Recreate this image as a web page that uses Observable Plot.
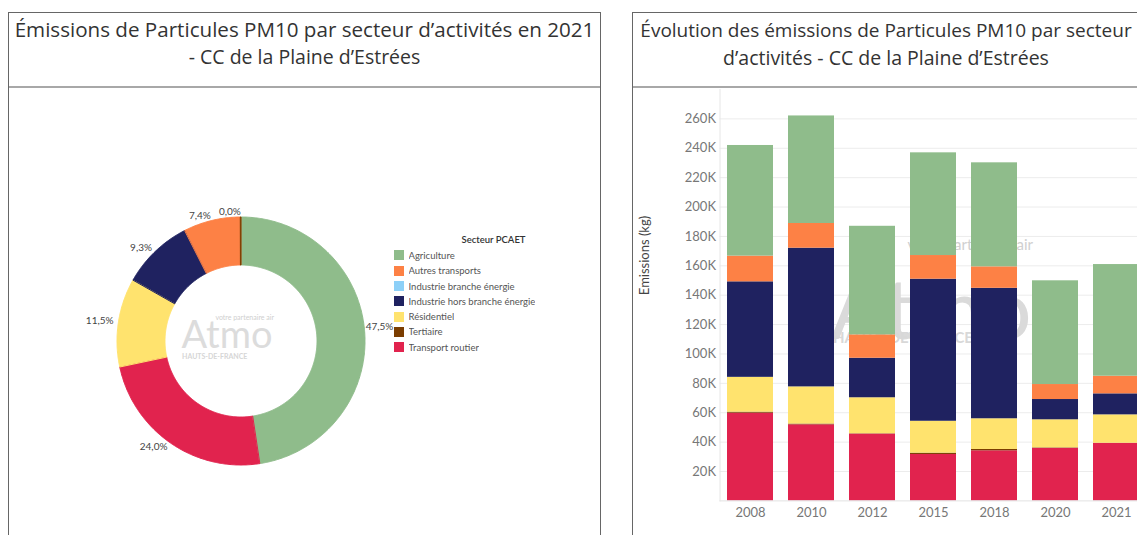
<!DOCTYPE html>
<html><head><meta charset="utf-8">
<script src="https://cdn.jsdelivr.net/npm/d3@7"></script>
<script src="https://cdn.jsdelivr.net/npm/@observablehq/plot@0.6"></script>
<style>
html,body{margin:0;padding:0;width:1137px;height:535px;overflow:hidden;background:#fff;font-family:"Open Sans",sans-serif;}
.panel{position:absolute;top:12px;height:540px;border:1.5px solid #666;border-bottom:none;box-sizing:border-box;overflow:hidden;background:#fff}
#left{left:8px;width:593px}
#right{left:632px;width:508px}
.title{height:75px;border-bottom:2px solid #a8a8a8;box-sizing:border-box;text-align:center;color:#333;font-size:19.5px;line-height:27px;padding-top:3px;white-space:nowrap}
#left .l1{font-size:20.6px}
#right .l1{font-size:19px}
.chart{position:absolute;top:75.5px;left:0;width:600px}
.chart svg{max-width:none !important}
#legend{position:absolute;left:384.5px;top:234.8px;width:200px}
#legend .lg-swatch{height:15.3px;padding:0;margin:0;font:9.5px Lato,sans-serif;color:#555}
#legend .lg-swatch svg{margin-right:5px}
#legtitle{position:absolute;left:452.5px;top:220.5px;font:600 9.5px Lato,sans-serif;line-height:12px;color:#333;white-space:nowrap}
</style></head>
<body>
<div id="left" class="panel">
  <div class="title"><span class="l1">Émissions de Particules PM10 par secteur d’activités en 2021</span><br>- CC de la Plaine d’Estrées</div>
  <div id="donut" class="chart"></div>
  <div id="legtitle">Secteur PCAET</div>
  <div id="legend"></div>
</div>
<div id="right" class="panel">
  <div class="title"><span class="l1">Évolution des émissions de Particules PM10 par secteur</span><br>d’activités - CC de la Plaine d’Estrées</div>
  <div id="bars" class="chart"></div>
</div>
<script>
// ---- data ----
const sectors = ["Agriculture","Autres transports","Industrie branche énergie","Industrie hors branche énergie","Résidentiel","Tertiaire","Transport routier"];
const colors = ["#8fbc8b","#fd8145","#8dd0f8","#1f2260","#ffe36e","#7b3d00","#e1234e"];
// 2021 shares (%) for the donut
const share2021 = [47.5, 7.4, 0, 9.3, 11.5, 0.04, 24.0];

const years = ["2008","2010","2012","2015","2018","2020","2021"];
const agriculture      = [75300, 73200, 73900, 69900, 70800, 70600, 76000];
const autresTransports = [17500, 16800, 15900, 16100, 14600, 10200, 12000];
const industrieBranche = [0, 0, 0, 0, 0, 0, 0];
const industrieHors    = [65000, 94400, 26900, 96700, 88800, 13800, 14300];
const residentiel      = [23700, 25300, 24500, 21700, 20900, 19100, 19300];
const tertiaire        = [700, 500, 200, 900, 900, 300, 60];
const transportRoutier = [59700, 51800, 45500, 31600, 34100, 35800, 39200];
const yTicks = [20000,40000,60000,80000,100000,120000,140000,160000,180000,200000,220000,240000,260000];

const colorScale = {domain: sectors, range: colors};

// ---- donut ----
const R = 124, r = 76;
const pieData = sectors.map((s,i)=>({sector:s, value:share2021[i]})).filter(d=>d.value>0)
  .sort((a,b)=>b.value-a.value);
const arcs = d3.pie().value(d=>d.value).sort(null)(pieData);
const pts = arcs.flatMap(a=>{
  const n = Math.max(2, Math.ceil((a.endAngle-a.startAngle)/0.01));
  const outer=[], inner=[];
  for(let k=0;k<=n;k++){
    const t = a.startAngle + (a.endAngle-a.startAngle)*k/n;
    outer.push({sector:a.data.sector, x:R*Math.sin(t), y:R*Math.cos(t)});
    inner.push({sector:a.data.sector, x:r*Math.sin(t), y:r*Math.cos(t)});
  }
  return [...outer, ...inner.reverse()];
});
const fmt = v => d3.format(".1f")(v).replace(".", ",") + "%";
const labels = arcs.map(a=>{
  const m = (a.startAngle+a.endAngle)/2;
  return {x:(R+5)*Math.sin(m), y:(R+5)*Math.cos(m), side:Math.sin(m)>=0?"r":"l", t:fmt(a.data.value)};
});
const center = [{x:0,y:0}];

const donut = Plot.plot({
  width: 590, height: 446, margin: 0,
  x: {domain: [-231.5, 358.5], axis: null},
  y: {domain: [-194.5, 251.5], axis: null},
  color: colorScale,
  style: {fontFamily: "Lato, sans-serif", background: "transparent", overflow: "visible"},
  marks: [
    Plot.line(pts, {x:"x", y:"y", z:"sector", fill:"sector", stroke:"sector", strokeWidth:1, curve:"linear-closed"}),
    Plot.text(center, {x:"x", y:"y", text:()=>"Atmo", dx:-14, dy:-5, fontSize:38, fill:"#dcdcdc", textAnchor:"middle"}),
    Plot.text(center, {x:"x", y:"y", text:()=>"votre partenaire air", dx:33, dy:-23, fontSize:7, fill:"#cfcfcf", textAnchor:"end"}),
    Plot.text(center, {x:"x", y:"y", text:()=>"HAUTS-DE-FRANCE", dx:-59, dy:15.5, fontSize:7, fontWeight:"bold", fill:"#d6d6d6", textAnchor:"start"}),
    Plot.text(labels.filter(d=>d.side==="r"), {x:"x", y:"y", text:"t", textAnchor:"start", dx:-4, dy:-5, fontSize:10, fill:"#444"}),
    Plot.text(labels.filter(d=>d.side==="l"), {x:"x", y:"y", text:"t", textAnchor:"end", fontSize:10, fill:"#444"})
  ]
});
document.getElementById("donut").appendChild(donut);

const legend = Plot.legend({color: colorScale, legend: "swatches", columns: 1, swatchSize: 10, className: "lg"});
document.getElementById("legend").appendChild(legend);

// ---- stacked bars ----
const series = {
  "Agriculture": agriculture,
  "Autres transports": autresTransports,
  "Industrie branche énergie": industrieBranche,
  "Industrie hors branche énergie": industrieHors,
  "Résidentiel": residentiel,
  "Tertiaire": tertiaire,
  "Transport routier": transportRoutier
};
const stackOrder = ["Transport routier","Tertiaire","Résidentiel","Industrie hors branche énergie","Industrie branche énergie","Autres transports","Agriculture"];
const long = [];
years.forEach((yr,i)=>stackOrder.forEach(s=>long.push({year:yr, sector:s, value:series[s][i]})));

const bars = Plot.plot({
  width: 520, height: 446, marginLeft: 86.5, marginRight: 5.8, marginTop: 0, marginBottom: 34.6,
  style: {fontFamily: "Lato, sans-serif", fontSize: "13px", background: "transparent", maxWidth: "none"},
  x: {domain: years, paddingInner: 0.248, paddingOuter: 0.114, label: null, axis: null},
  y: {domain: [0, 280000], label: null, axis: null},
  color: colorScale,
  marks: [
    Plot.gridY(yTicks, {stroke:"#ececec", strokeOpacity:1}),
    Plot.text(center, {frameAnchor:"top-left", text:()=>"Atmo", dx:211, dy:190, fontSize:84, fill:"#dadada", textAnchor:"middle"}),
    Plot.text(center, {frameAnchor:"top-left", text:()=>"votre partenaire air", dx:313, dy:150, fontSize:15, fill:"#d0d0d0", textAnchor:"end"}),
    Plot.text(center, {frameAnchor:"top-left", text:()=>"HAUTS-DE-FRANCE", dx:113, dy:243, fontSize:15, fontWeight:"bold", fill:"#d8d8d8", textAnchor:"start"}),
    Plot.barY(long, {x:"year", y:"value", fill:"sector", order: stackOrder}),
    Plot.ruleY([0], {stroke:"#e2e2e2"}),
    Plot.frame({anchor:"left", stroke:"#e6e6e6"}),
    Plot.axisY(yTicks, {tickSize:0, tickPadding:4, tickFormat:d=>d/1000+"K", label:null, fill:"#777", fontSize:13}),
    Plot.axisX({tickSize:0, tickPadding:7, label:null, fill:"#777", fontSize:13}),
    Plot.text(["Emissions (kg)"], {frameAnchor:"left", text:d=>d, rotate:-90, dx:-75, fill:"#444", fontSize:13})
  ]
});
document.getElementById("bars").appendChild(bars);
</script>
</body></html>
